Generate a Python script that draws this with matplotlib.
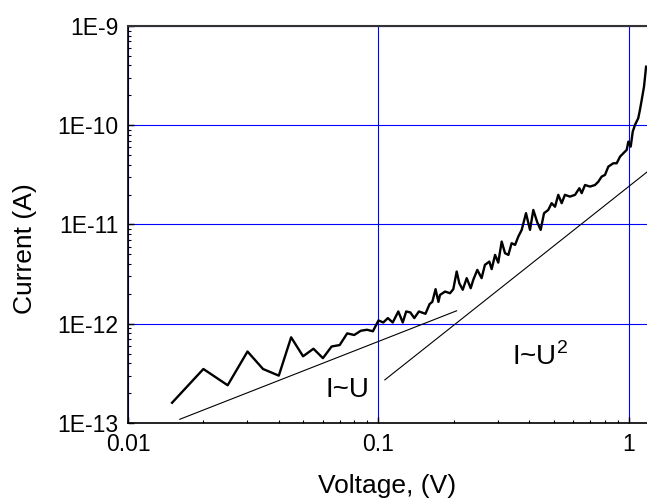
import numpy as np
import matplotlib
matplotlib.use('Agg')
import matplotlib.pyplot as plt
from matplotlib.ticker import FixedLocator, FixedFormatter, LogLocator, NullFormatter

plt.rcParams['font.family'] = ['Liberation Sans', 'DejaVu Sans']
plt.rcParams['mathtext.fontset'] = 'custom'
plt.rcParams['mathtext.rm'] = 'Liberation Sans'

# measured I-V curve
voltage = [0.015, 0.020, 0.025, 0.030, 0.0346, 0.040, 0.0448, 0.050, 0.055, 0.060,
           0.065, 0.070, 0.075, 0.080, 0.085, 0.090, 0.095, 0.100, 0.1045, 0.109,
           0.114, 0.120, 0.125, 0.129, 0.134, 0.139, 0.145, 0.154, 0.160, 0.164,
           0.169, 0.1735, 0.176, 0.1844, 0.193, 0.1989, 0.2052, 0.2102, 0.2169, 0.225,
           0.2334, 0.239, 0.248, 0.258, 0.266, 0.277, 0.283, 0.292, 0.3007, 0.3103,
           0.320, 0.330, 0.340, 0.351, 0.3615, 0.373, 0.388, 0.4026, 0.415, 0.4305,
           0.444, 0.458, 0.476, 0.491, 0.5066, 0.522, 0.5386, 0.555, 0.5813, 0.609,
           0.6335, 0.6475, 0.6675, 0.699, 0.7317, 0.7543, 0.778, 0.802, 0.827, 0.866,
           0.893, 0.921, 0.949, 0.979, 0.994, 1.016, 1.035, 1.057, 1.089, 1.106,
           1.124, 1.148, 1.17]
current = [1.6e-13, 3.5e-13, 2.4e-13, 5.25e-13, 3.5e-13, 3.0e-13, 7.3e-13, 4.7e-13, 5.6e-13, 4.5e-13,
           5.9e-13, 6.1e-13, 8.0e-13, 7.7e-13, 8.5e-13, 8.7e-13, 8.4e-13, 1.08e-12, 1.03e-12, 1.14e-12,
           1.03e-12, 1.33e-12, 1.03e-12, 1.33e-12, 1.3e-12, 1.14e-12, 1.33e-12, 1.26e-12, 1.58e-12, 1.66e-12,
           2.23e-12, 1.66e-12, 1.95e-12, 2.11e-12, 2.03e-12, 2.23e-12, 3.36e-12, 2.56e-12, 2.2e-12, 2.88e-12,
           2.28e-12, 2.77e-12, 3.49e-12, 2.88e-12, 3.92e-12, 4.23e-12, 3.55e-12, 4.94e-12, 4.13e-12, 6.73e-12,
           5.14e-12, 4.94e-12, 6.48e-12, 6.23e-12, 7.55e-12, 8.83e-12, 1.3e-11, 8.83e-12, 1.4e-11, 1.05e-11,
           8.83e-12, 1.3e-11, 1.4e-11, 1.64e-11, 1.51e-11, 1.99e-11, 1.64e-11, 1.99e-11, 1.91e-11, 1.99e-11,
           2.32e-11, 2.07e-11, 2.5e-11, 2.41e-11, 2.5e-11, 2.7e-11, 3.04e-11, 3.16e-11, 3.83e-11, 4.14e-11,
           4.14e-11, 4.83e-11, 5.22e-11, 5.64e-11, 6.84e-11, 6.09e-11, 8.63e-11, 1.01e-10, 1.18e-10, 1.43e-10,
           1.8e-10, 2.45e-10, 3.89e-10]

# guide lines
ohm_x = [0.0161, 0.205]
ohm_y = [1.09e-13, 1.35e-12]
sclc_x = [0.106, 1.3]
sclc_y = [2.72e-13, 4.1e-11]

xticks = [0.01, 0.1, 1]
xticklabels = ['0.01', '0.1', '1']
yticks = [1e-13, 1e-12, 1e-11, 1e-10, 1e-9]
yticklabels = ['1E-13', '1E-12', '1E-11', '1E-10', '1E-9']

fig = plt.figure(figsize=(6.47, 5.01), dpi=100)
ax = fig.add_axes([0.1978, 0.1557, 0.8022, 0.7924])

ax.plot(voltage, current, color='black', lw=1.7, zorder=3)
ax.plot(ohm_x, ohm_y, color='black', lw=0.8, zorder=3)
ax.plot(sclc_x, sclc_y, color='black', lw=0.8, zorder=3)

ax.set_xscale('log')
ax.set_yscale('log')
ax.set_xlim(0.01, 1.18)
ax.set_ylim(1e-13, 1e-9)

ax.xaxis.set_major_locator(FixedLocator(xticks))
ax.xaxis.set_major_formatter(FixedFormatter(xticklabels))
ax.yaxis.set_major_locator(FixedLocator(yticks))
ax.yaxis.set_major_formatter(FixedFormatter(yticklabels))
ax.xaxis.set_minor_locator(LogLocator(base=10, subs=np.arange(2, 10)))
ax.yaxis.set_minor_locator(LogLocator(base=10, subs=np.arange(2, 10)))
ax.xaxis.set_minor_formatter(NullFormatter())
ax.yaxis.set_minor_formatter(NullFormatter())

ax.tick_params(which='both', direction='in', top=False, right=False, labelsize=16.5)
ax.tick_params(which='major', length=4, width=1, pad=7)
ax.tick_params(which='minor', length=2.5, width=0.8)

ax.grid(True, which='major', color='#0000ff', lw=0.8)
ax.set_axisbelow(True)

for s in ['left', 'bottom']:
    ax.spines[s].set_linewidth(1.2)
ax.spines['top'].set_linewidth(1.5)
ax.spines['top'].set_color('#333333')
ax.spines['right'].set_visible(False)

ax.set_xlabel('Voltage, (V)', fontsize=19)
ax.set_ylabel('Current (A)', fontsize=19)
ax.xaxis.set_label_coords(0.5, -0.128)
ax.yaxis.set_label_coords(-0.175, 0.44)

ax.text(0.0612, 1.84e-13, 'I~U', fontsize=20, ha='left', va='baseline')
ax.text(0.34, 3.86e-13, r'I~U$^\mathrm{2}$', fontsize=20, ha='left', va='baseline')

fig.savefig('out.png', dpi=100)
